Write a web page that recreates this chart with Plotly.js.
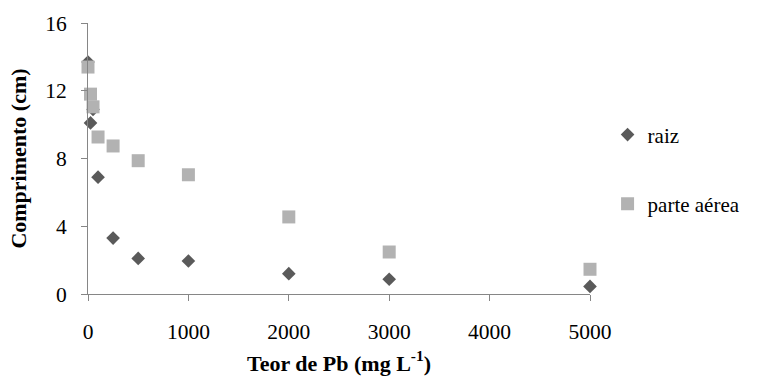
<!DOCTYPE html>
<html>
<head>
<meta charset="utf-8">
<script src="https://cdn.plot.ly/plotly-3.0.1.min.js"></script>
<style>html,body{margin:0;padding:0;background:#fff;}#chart{width:758px;height:380px;}</style>
</head>
<body>
<div id="chart"></div>
<script>
// Data
const teorPb = [0, 25, 50, 100, 250, 500, 1000, 2000, 3000, 5000];
const raiz = [13.7, 10.1, 10.9, 6.9, 3.3, 2.1, 1.95, 1.2, 0.87, 0.45];
const parteAerea = [13.4, 11.8, 11.05, 9.27, 8.74, 7.87, 7.04, 4.55, 2.48, 1.46];
const seriesNames = ['raiz', 'parte aérea'];
const xTicks = [0, 1000, 2000, 3000, 4000, 5000];
const yTicks = [0, 4, 8, 12, 16];

const FONT = 'Liberation Serif';

const traces = [
  {
    x: teorPb, y: raiz, name: seriesNames[0], type: 'scatter', mode: 'markers',
    marker: {symbol: 'diamond', size: 10.5, color: '#5a5a5a', line: {width: 0}},
    cliponaxis: false, legend: 'legend'
  },
  {
    x: teorPb, y: parteAerea, name: seriesNames[1], type: 'scatter', mode: 'markers',
    marker: {symbol: 'square', size: 13, color: '#b2b2b2', line: {width: 0}},
    cliponaxis: false, legend: 'legend2'
  }
];

const legendCommon = {
  xanchor: 'left', yanchor: 'middle', bgcolor: 'rgba(0,0,0,0)',
  font: {family: FONT, size: 21, color: '#000'}, itemwidth: 30
};

const layout = {
  width: 758, height: 380,
  margin: {l: 88, r: 154, t: 23, b: 86},
  paper_bgcolor: '#fff', plot_bgcolor: '#fff',
  font: {family: FONT, size: 21, color: '#000'},
  showlegend: true,
  legend: Object.assign({x: 1.035, y: 0.587}, legendCommon),
  legend2: Object.assign({x: 1.035, y: 0.332}, legendCommon),
  xaxis: {
    range: [0, 5000], tickvals: xTicks, ticktext: xTicks.map(String),
    showgrid: false, zeroline: false, showline: true, linecolor: '#868686', linewidth: 1,
    ticks: 'outside', ticklen: 6, tickcolor: '#868686', ticklabelstandoff: 12,
    tickfont: {family: FONT, size: 21.5, color: '#000'},
    title: {text: 'Teor de Pb (mg L<sup>-1</sup>)', font: {family: FONT, size: 22, color: '#000', weight: 'bold'}, standoff: 12}
  },
  yaxis: {
    range: [0, 16], tickvals: yTicks, ticktext: yTicks.map(String),
    showgrid: false, zeroline: false, showline: true, linecolor: '#868686', linewidth: 1,
    ticks: 'outside', ticklen: 6, tickcolor: '#868686', ticklabelstandoff: 10,
    tickfont: {family: FONT, size: 21.5, color: '#000'},
    title: {text: 'Comprimento (cm)', font: {family: FONT, size: 22, color: '#000', weight: 'bold'}, standoff: 12}
  }
};

Plotly.newPlot('chart', traces, layout, {displayModeBar: false, staticPlot: true});
</script>
</body>
</html>
